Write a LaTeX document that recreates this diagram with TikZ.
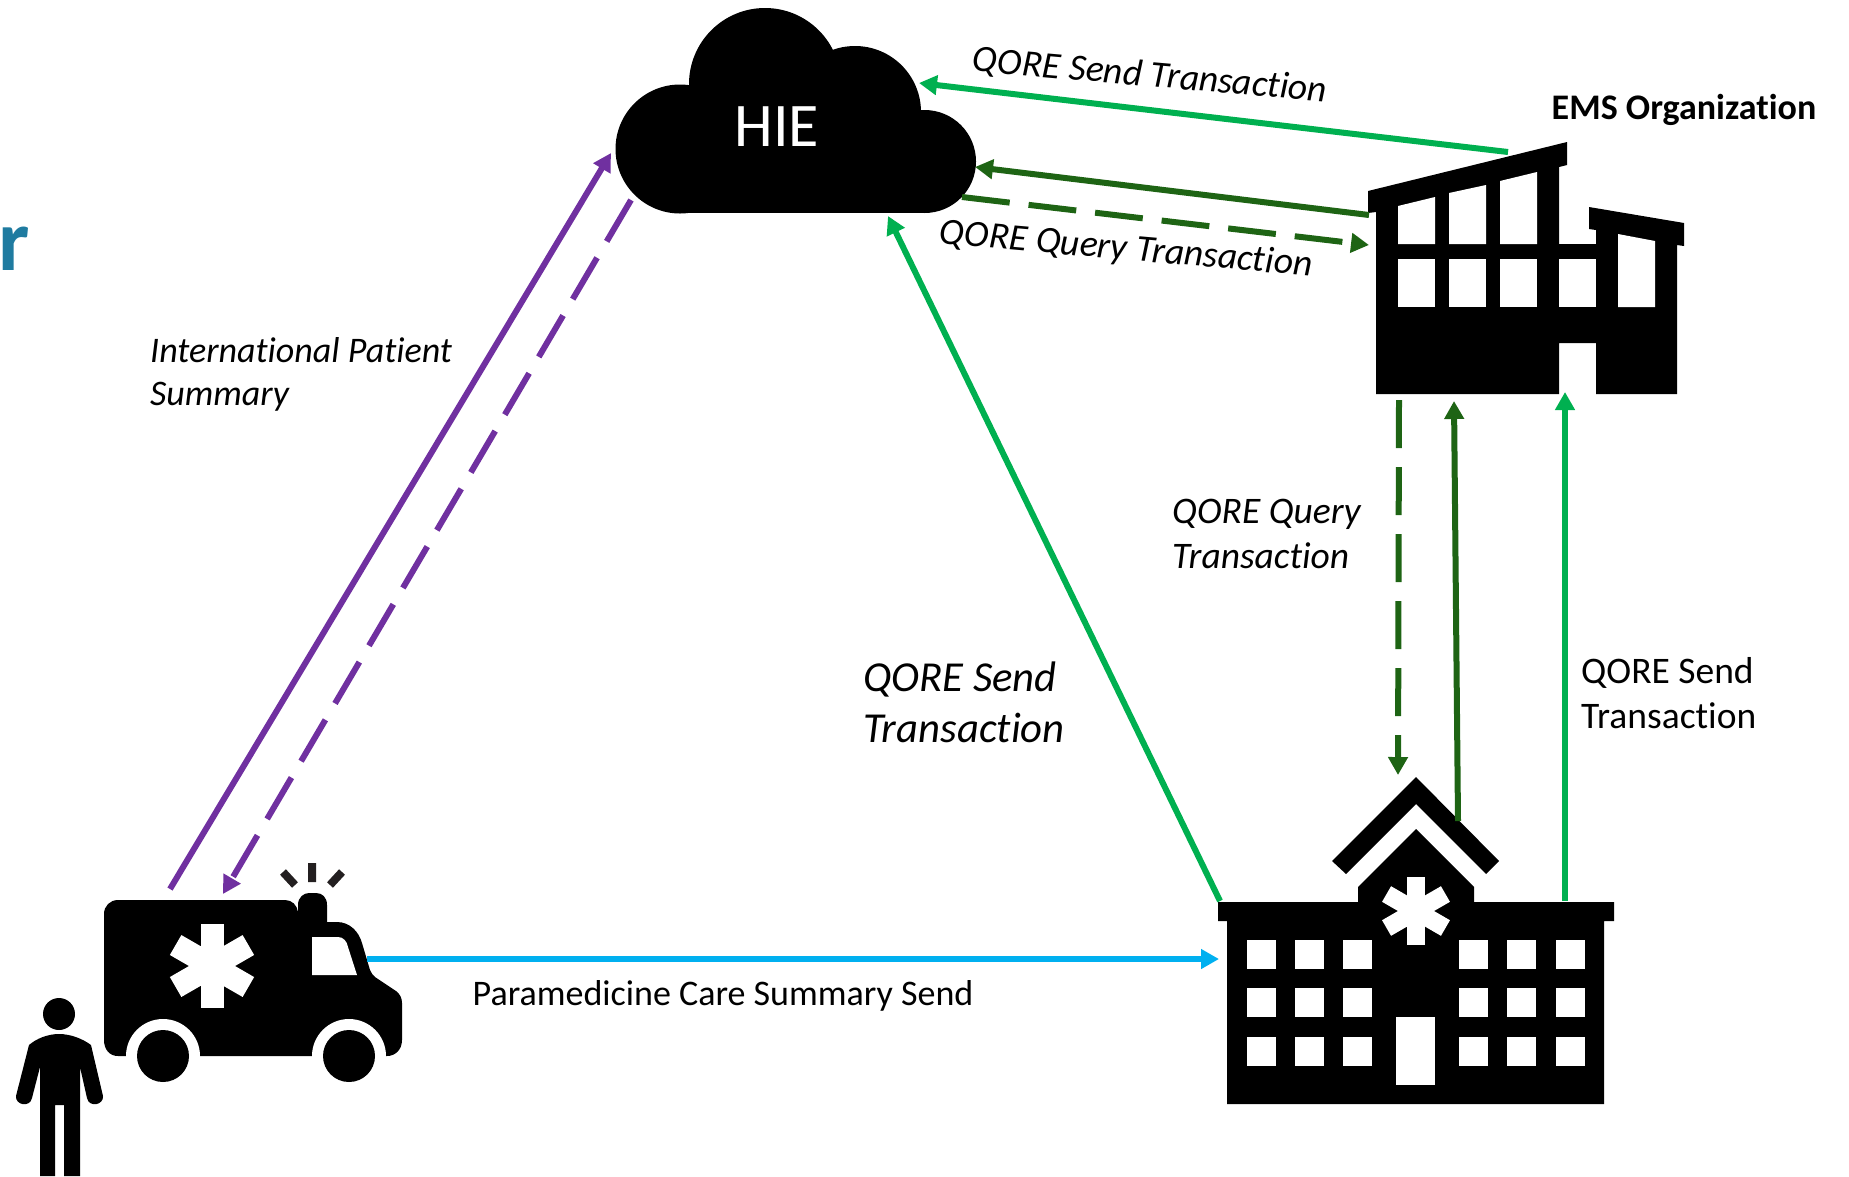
\documentclass[tikz,border=0pt]{standalone}
\usepackage{fontspec}
\setmainfont{Carlito}[Ligatures=NoCommon]
\usetikzlibrary{arrows.meta}
\definecolor{ipspurple}{HTML}{7030A0}
\definecolor{sendblue}{HTML}{00B0F0}
\definecolor{sendgreen}{HTML}{00B050}
\definecolor{querygreen}{HTML}{1E6414}
\definecolor{raygray}{HTML}{231F20}
\definecolor{titleteal}{HTML}{1F7BA0}
\tikzset{
	x=1pt, y=-1pt, % one unit is one pixel of the reference, y runs downwards
	>={Triangle[length=18pt,width=19pt]}, % solid triangular arrow heads
	link/.style={->, line width=6pt}, % sets the properties for each connector
	dashlink/.style={link, dash pattern=on 48pt off 19pt},
	every node/.style={inner sep=0pt},
	smalltext/.style={font=\fontsize{37.5}{45}\selectfont, align=left},
	slanttext/.style={font=\fontsize{37.5}{44}\selectfont\itshape, align=left},
	bigtext/.style={font=\fontsize{42.7}{51}\selectfont\itshape, align=left},
}
% the white six armed star on the ambulance and on the hospital
\newcommand{\starsign}[4]{
	\foreach \a in {0,60,120}
		\fill[white, rotate around={\a:(#1,#2)}] ({#1-#3/2},{#2-#4}) rectangle ({#1+#3/2},{#2+#4});
}

\begin{document}
\begin{tikzpicture}
	\useasboundingbox (0,0) rectangle (1849,1176);

	% cut off letter at the left edge
	\node[anchor=base east, text=titleteal, font=\fontsize{88}{88}\selectfont\bfseries] (titlecut) at (30,270) {r};

	% cloud
	\fill (680,149) circle[radius=64.5] (765,84) circle[radius=76] (855,112) circle[radius=66] (924.5,161.5) circle[radius=51.5];
	\fill (680,110) rectangle (924,213);
	\node[text=white, font=\fontsize{62}{62}\selectfont] (hie) at (777,127) {HIE};

	% ambulance
	\fill (118,900) -- (285,900) .. controls (292,900) and (297,905) .. (298,912) -- (298,905)
		.. controls (298,897) and (304,893) .. (309,893) -- (316,893) .. controls (322,893) and (327,897) .. (327,905)
		-- (327,922) -- (337,922) .. controls (350,922) and (359,932) .. (362,943) -- (370,970)
		.. controls (371,973) and (373,975) .. (375,977) -- (396,991) .. controls (400,994) and (402,998) .. (402,1003)
		-- (402,1040) .. controls (402,1050) and (395,1056) .. (387,1056) -- (118,1056)
		.. controls (110,1056) and (104,1050) .. (104,1040) -- (104,914) .. controls (104,906) and (110,900) .. (118,900) -- cycle;
	\fill[white] (163,1056) circle[radius=37] (349,1056) circle[radius=37];
	\fill (163,1056) circle[radius=26] (349,1056) circle[radius=26];
	\fill[white] (312,937) -- (338,937) .. controls (343,937) and (347,941) .. (348,947) -- (357,975) -- (312,975) -- cycle;
	\starsign{212}{966}{23}{42}
	\draw[raygray, line width=8pt] (312,863) -- (312,882) (283,872) -- (295,885) (342,872) -- (330,885);

	% person
	\fill (59,1014) circle[radius=16];
	\fill (59,1034) .. controls (47,1034) and (36,1039) .. (29,1045) -- (16,1096)
		.. controls (15,1105) and (30,1108) .. (32,1098) -- (40,1067) -- (40,1176) -- (55,1176) -- (55,1105) -- (64,1105)
		-- (64,1176) -- (80,1176) -- (80,1067) -- (87,1098) .. controls (89,1108) and (104,1105) .. (103,1096)
		-- (91,1045) .. controls (83,1039) and (71,1034) .. (59,1034) -- cycle;

	% hospital
	\fill (1218,902) -- (1358,902) -- (1358,887) -- (1416,829) -- (1474,887) -- (1474,902) -- (1614,902) -- (1614,921)
		-- (1604,921) -- (1604,1104) -- (1227,1104) -- (1227,921) -- (1218,921) -- cycle;
	\fill (1416,777) -- (1499,861) -- (1486,874) -- (1416,804) -- (1346,874) -- (1332,861) -- cycle;
	\starsign{1416}{911}{18}{34}
	\foreach \wx in {1247,1295,1343,1459,1507,1556}
		\foreach \wy in {940,988,1037}
			\fill[white] (\wx,\wy) rectangle +(29,29);
	\fill[white] (1396,1017) rectangle (1435,1085);

	% EMS building
	\fill (1368,191) -- (1567,142) -- (1567,165) -- (1559,167) -- (1559,244) -- (1596,244) -- (1596,230) -- (1589,229)
		-- (1589,207) -- (1684,223) -- (1684,246) -- (1677,245) -- (1677,394) -- (1596,394) -- (1596,343) -- (1559,343)
		-- (1559,394) -- (1376,394) -- (1376,212) -- (1368,213) -- cycle;
	\fill[white] (1398,206) -- (1435,197) -- (1435,244) -- (1398,244) -- cycle;
	\fill[white] (1449,193) -- (1486,185) -- (1486,244) -- (1449,244) -- cycle;
	\fill[white] (1500,181) -- (1537,172) -- (1537,244) -- (1500,244) -- cycle;
	\fill[white] (1618,234) -- (1655,241) -- (1655,307) -- (1618,307) -- cycle;
	\foreach \wx in {1398,1449,1500,1559}
		\fill[white] (\wx,259) rectangle +(37,48);

	% ends of the connectors
	\coordinate (ambOut) at (170,889);
	\coordinate (ambIn) at (223,894);
	\coordinate (ambSide) at (367,959);
	\coordinate (hieLeftIn) at (611,153);
	\coordinate (hieLeftOut) at (631,200);
	\coordinate (hieTopIn) at (919,83);
	\coordinate (hieRightIn) at (975,167);
	\coordinate (hieRightOut) at (962,197);
	\coordinate (hieBottomIn) at (888,216);
	\coordinate (emsRoof) at (1508,152);
	\coordinate (emsSideOut) at (1369,215);
	\coordinate (emsSideIn) at (1369,245);
	\coordinate (emsBaseOut) at (1399,400);
	\coordinate (emsBaseIn) at (1454,401);
	\coordinate (emsDoor) at (1565,392);
	\coordinate (hospSide) at (1219,959);
	\coordinate (hospEdge) at (1220,901);
	\coordinate (hospTop) at (1398,775);
	\coordinate (hospRoof) at (1458,821);
	\coordinate (hospEave) at (1565,901);

	\draw[link, ipspurple] (ambOut) -- (hieLeftIn);
	\draw[dashlink, ipspurple] (hieLeftOut) -- (ambIn);
	\draw[link, sendblue] (ambSide) -- (hospSide);
	\draw[link, sendgreen] (emsRoof) -- (hieTopIn);
	\draw[link, querygreen] (emsSideOut) -- (hieRightIn);
	\draw[dashlink, querygreen] (hieRightOut) -- (emsSideIn);
	\draw[link, sendgreen] (hospEdge) -- (hieBottomIn);
	\draw[dashlink, querygreen] (emsBaseOut) -- (hospTop);
	\draw[link, querygreen] (hospRoof) -- (emsBaseIn);
	\draw[link, sendgreen] (hospEave) -- (emsDoor);

	% labels
	\node[font=\fontsize{36}{38}\selectfont\bfseries] (emsname) at (1684,110) {EMS Organization};
	\node[slanttext, rotate=-5] (topsend) at (1150,76) {QORE Send Transaction};
	\node[slanttext, rotate=-5] (topquery) at (1126,250) {QORE Query Transaction};
	\node[slanttext, font=\fontsize{36}{43}\selectfont\itshape, anchor=west] (ipslabel) at (150,374) {International Patient\\Summary};
	\node[slanttext, font=\fontsize{37.5}{45}\selectfont\itshape, anchor=west] (sidequery) at (1172,534) {QORE Query\\Transaction};
	\node[bigtext, anchor=west] (midsend) at (863,702) {QORE Send\\Transaction};
	\node[smalltext, anchor=west] (sidesend) at (1581,693) {QORE Send\\Transaction};
	\node[smalltext, font=\fontsize{36}{45}\selectfont] (caresend) at (723,996) {Paramedicine Care Summary Send};
\end{tikzpicture}
\end{document}
